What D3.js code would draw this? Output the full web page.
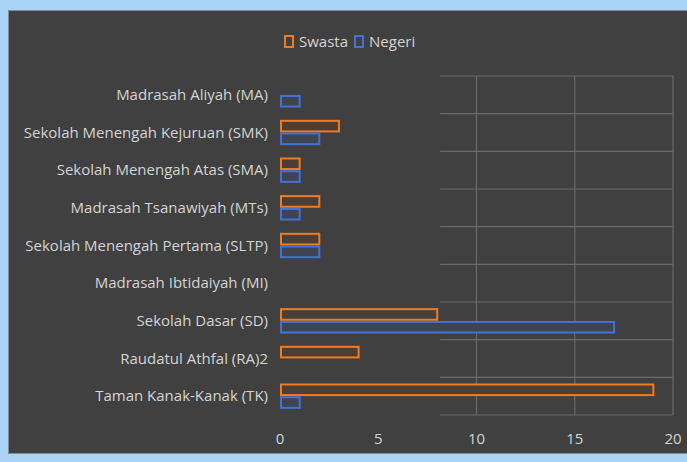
<!DOCTYPE html>
<html>
<head>
<meta charset="utf-8">
<script src="https://cdn.jsdelivr.net/npm/d3@7"></script>
<style>
  html, body { margin: 0; padding: 0; background: #a9d3f7; }
  svg { display: block; }
  .label { font-family: 'Liberation Sans Narrow', 'Open Sans', sans-serif; fill: #d4d4d4; }
</style>
</head>
<body>
<svg id="chart" width="687" height="462"></svg>
<script>
'use strict'

// categories top to bottom
const categories = [
  'Madrasah Aliyah (MA)',
  'Sekolah Menengah Kejuruan (SMK)',
  'Sekolah Menengah Atas (SMA)',
  'Madrasah Tsanawiyah (MTs)',
  'Sekolah Menengah Pertama (SLTP)',
  'Madrasah Ibtidaiyah (MI)',
  'Sekolah Dasar (SD)',
  'Raudatul Athfal (RA)2',
  'Taman Kanak-Kanak (TK)'
]
const seriesNames = ['Swasta', 'Negeri']
const swasta = [0, 3, 1, 2, 2, 0, 8, 4, 19]
const negeri = [1, 2, 1, 1, 2, 0, 17, 0, 1]
const xTicks = [0, 5, 10, 15, 20]

const colors = { Swasta: '#f07c22', Negeri: '#4472d4' }

const svg = d3.select('#chart')

// dark panel
svg.append('rect')
  .attr('x', 8.5).attr('y', 10.5)
  .attr('width', 690).attr('height', 443)
  .attr('fill', '#404040')
  .attr('stroke', '#8a8a8a')
  .attr('stroke-width', 1)

const margin = { top: 76, left: 280, right: 14, bottom: 47 }
const width = 687 - margin.left - margin.right
const height = 462 - margin.top - margin.bottom

const x = d3.scaleLinear().domain([0, 20]).range([0, width])
const y = d3.scaleBand().domain(categories).range([0, height])
const inner = d3.scaleBand().domain(seriesNames)
  .range([y.bandwidth() * 0.19, y.bandwidth() * 0.81]).paddingInner(0.17)

const g = svg.append('g')
  .attr('transform', 'translate(' + margin.left + ',' + margin.top + ')')

// grid only shows on the right part in the original
const clipX = x(8.15)
g.append('clipPath').attr('id', 'gridclip')
  .append('rect').attr('x', clipX).attr('y', -2).attr('width', width - clipX + 4).attr('height', height + 4)

const grid = g.append('g').attr('clip-path', 'url(#gridclip)')
  .attr('stroke', '#6b6b6b').attr('stroke-width', 1.2)

grid.selectAll('.vline')
  .data(xTicks)
  .enter().append('line')
  .attr('x1', d => x(d)).attr('x2', d => x(d))
  .attr('y1', 0).attr('y2', height)

grid.selectAll('.hline')
  .data(categories.concat(['end']))
  .enter().append('line')
  .attr('x1', 0).attr('x2', width)
  .attr('y1', (d, i) => i < categories.length ? y(d) : height)
  .attr('y2', (d, i) => i < categories.length ? y(d) : height)

const rows = categories.map((c, i) => ({ cat: c, Swasta: swasta[i], Negeri: negeri[i] }))

seriesNames.forEach(s => {
  g.selectAll('.bar-' + s)
    .data(rows.filter(d => d[s] > 0))
    .enter().append('rect')
    .attr('x', x(0) + 1)
    .attr('y', d => y(d.cat) + inner(s))
    .attr('width', d => x(d[s]) - x(0) - 1)
    .attr('height', inner.bandwidth())
    .attr('fill', s === 'Swasta' ? '#4a3f36' : '#3e4452')
    .attr('stroke', colors[s])
    .attr('stroke-width', 2)
})

// category labels
g.selectAll('.cat')
  .data(categories)
  .enter().append('text')
  .attr('class', 'label')
  .attr('x', -12)
  .attr('y', d => y(d) + y.bandwidth() / 2)
  .attr('dy', '0.35em')
  .attr('text-anchor', 'end')
  .attr('font-size', 15)
  .text(d => d)

// x tick labels
g.selectAll('.tick')
  .data(xTicks)
  .enter().append('text')
  .attr('class', 'label')
  .attr('x', d => x(d))
  .attr('y', height + 24)
  .attr('dy', '0.35em')
  .attr('text-anchor', 'middle')
  .attr('font-size', 15)
  .text(d => d)

// legend
const legend = svg.append('g').attr('transform', 'translate(284,42)')
let lx = 0
seriesNames.forEach(s => {
  const item = legend.append('g').attr('transform', 'translate(' + lx + ',0)')
  item.append('rect')
    .attr('x', 1).attr('y', -6)
    .attr('width', 8).attr('height', 11)
    .attr('fill', 'none')
    .attr('stroke', colors[s])
    .attr('stroke-width', 2)
  const t = item.append('text')
    .attr('class', 'label')
    .attr('x', 15).attr('y', 0)
    .attr('dy', '0.35em')
    .attr('font-size', 15)
    .text(s)
  lx += 15 + t.node().getComputedTextLength() + 6
})
</script>
</body>
</html>
